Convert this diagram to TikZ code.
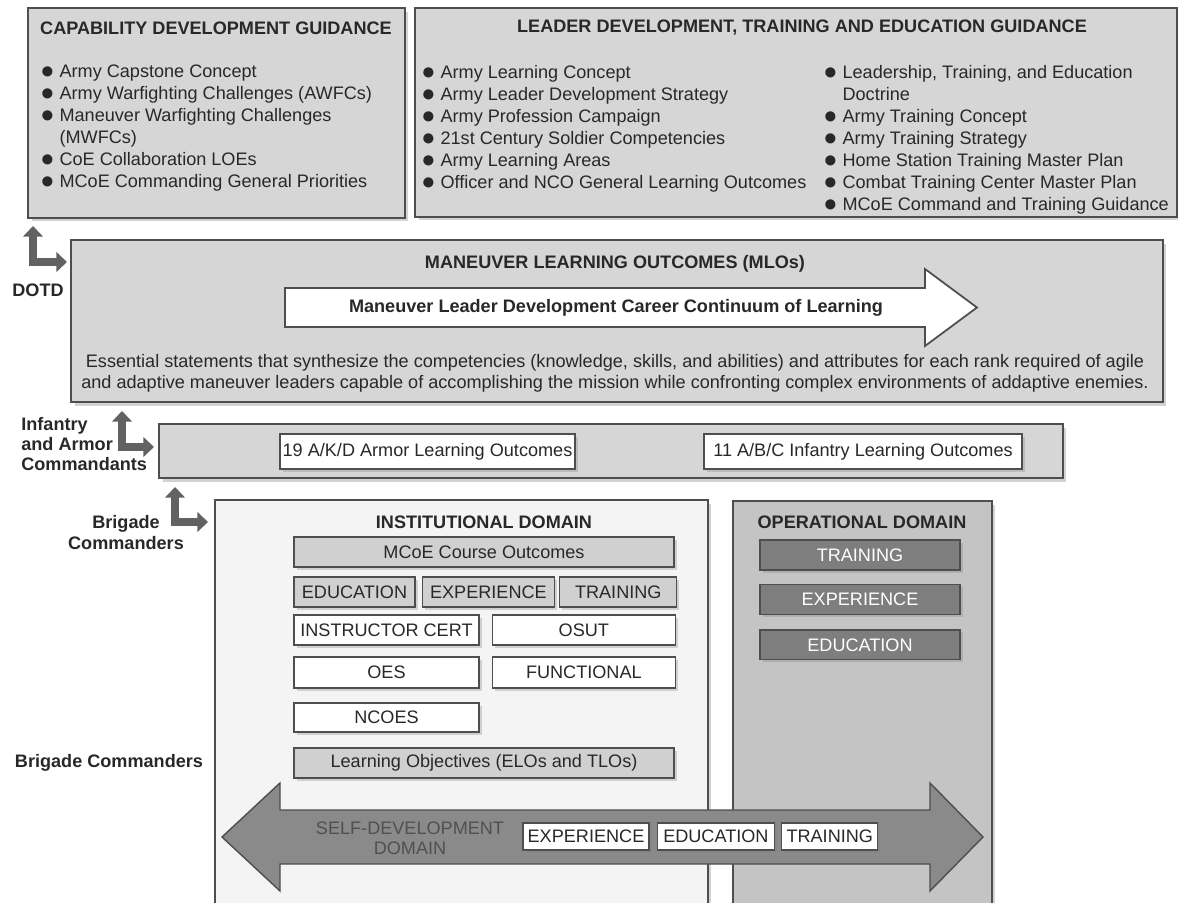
\documentclass[tikz,border=0pt]{standalone}
\usepackage{fontspec}
\setmainfont{Liberation Sans}
\usetikzlibrary{positioning,arrows.meta,shadows}
\definecolor{boxgray}{RGB}{214,214,214}
\definecolor{cellgray}{RGB}{208,208,208}
\definecolor{instgray}{RGB}{244,244,244}
\definecolor{opgray}{RGB}{196,196,196}
\definecolor{darkcellgray}{RGB}{126,126,126}
\definecolor{edgegray}{RGB}{78,78,78}
\definecolor{elbowgray}{RGB}{98,98,98}
\definecolor{inkgray}{RGB}{40,40,40}
\definecolor{sdgray}{RGB}{138,138,138}
\definecolor{sdtext}{RGB}{80,80,80}
\newcommand{\bul}{\raisebox{-0.5pt}{\scalebox{1.3}{●}}}

\begin{document}
\begin{tikzpicture}[
    x=0.02cm, y=-0.02cm,
    font=\fontsize{10.3}{12.5}\selectfont,
    text=inkgray,
    panel/.style={draw=edgegray, line width=1pt, fill=boxgray, inner sep=0pt,
        drop shadow={shadow xshift=2pt, shadow yshift=-2pt, opacity=0.35}},
    domainbox/.style={panel, line width=0.8pt},
    cell/.style={draw=edgegray, line width=0.8pt, fill=white, inner sep=0pt,
        drop shadow={shadow xshift=1.5pt, shadow yshift=-1.5pt, opacity=0.3}},
    graycell/.style={cell, fill=cellgray},
    darkcell/.style={cell, fill=darkcellgray, text=white},
    ttl/.style={font=\fontsize{10.3}{12.5}\selectfont\bfseries},
    lst/.style={align=left, inner sep=0pt, anchor=north west},
    who/.style={font=\fontsize{10.3}{11.5}\selectfont\bfseries, inner sep=0pt},
    elbow/.style={draw=elbowgray, line width=4pt, line join=miter,
        >={Triangle[width=11pt,length=6pt]}, <->},
]
\useasboundingbox (0,0) rectangle (1178,903);

% guidance boxes
\node[panel, minimum width=7.54cm, minimum height=4.2cm] (cdg) at (216.5,113) {};
\node[ttl] (cdgtitle) at (216,28) {CAPABILITY DEVELOPMENT GUIDANCE};
\node[lst] (cdglist) at (40,65) {\bul\ Army Capstone Concept\\\bul\ Army Warfighting Challenges (AWFCs)\\\bul\ Maneuver Warfighting Challenges\\\hphantom{\bul} (MWFCs)\\\bul\ CoE Collaboration LOEs\\\bul\ MCoE Commanding General Priorities};

\node[panel, minimum width=15.24cm, minimum height=4.18cm] (ldte) at (796,112.5) {};
\node[ttl] (ldtetitle) at (802,28) {LEADER DEVELOPMENT, TRAINING AND EDUCATION GUIDANCE};
\node[lst] (ldteleft) at (421,65) {\bul\ Army Learning Concept\\\bul\ Army Leader Development Strategy\\\bul\ Army Profession Campaign\\\bul\ 21st Century Soldier Competencies\\\bul\ Army Learning Areas\\\bul\ Officer and NCO General Learning Outcomes};
\node[lst] (ldteright) at (823,65) {\bul\ Leadership, Training, and Education\\\hphantom{\bul} Doctrine\\\bul\ Army Training Concept\\\bul\ Army Training Strategy\\\bul\ Home Station Training Master Plan\\\bul\ Combat Training Center Master Plan\\\bul\ MCoE Command and Training Guidance};

% maneuver learning outcomes
\node[panel, minimum width=21.84cm, minimum height=3.24cm] (mlo) at (617,321) {};
\node[ttl] (mlotitle) at (615,264) {MANEUVER LEARNING OUTCOMES (MLOs)};
\draw[edgegray, line width=1pt, fill=white] (285,288) -- (925,288) -- (925,269) -- (977,307.5)
    -- (925,346) -- (925,327) -- (285,327) -- cycle;
\node[ttl] (continuum) at (616,308) {Maneuver Leader Development Career Continuum of Learning};
\node[align=center, inner sep=0pt, font=\fontsize{10.3}{12}\selectfont] (mlotext) at (615,373) {Essential statements that synthesize the competencies (knowledge, skills, and abilities) and attributes for each rank required of agile\\and adaptive maneuver leaders capable of accomplishing the mission while confronting complex environments of addaptive enemies.};

% branch learning outcomes
\node[panel, minimum width=18.08cm, minimum height=1.08cm] (lo) at (611,451) {};
\node[cell, minimum width=5.9cm, minimum height=0.7cm] (armor) at (427.5,451.5) {19 A/K/D Armor Learning Outcomes};
\node[cell, minimum width=6.36cm, minimum height=0.7cm] (infantry) at (863,451.5) {11 A/B/C Infantry Learning Outcomes};

% domains
\node[domainbox, fill=instgray, minimum width=9.86cm, minimum height=8.3cm] (inst) at (461.5,707.5) {};
\node[domainbox, fill=opgray, minimum width=5.18cm, minimum height=8.28cm] (oper) at (862.5,708) {};
\node[ttl] (insttitle) at (484,522) {INSTITUTIONAL DOMAIN};
\node[ttl] (opertitle) at (862,522) {OPERATIONAL DOMAIN};

\node[graycell, minimum width=7.6cm, minimum height=0.6cm] (mcoe) at (484,552) {MCoE Course Outcomes};
\node[graycell, minimum width=2.42cm, minimum height=0.6cm] (edu) at (354.5,592) {EDUCATION};
\node[graycell, minimum width=2.64cm, minimum height=0.6cm, right=0.12cm of edu] (exp) {EXPERIENCE};
\node[graycell, minimum width=2.34cm, minimum height=0.6cm, right=0.08cm of exp] (trn) {TRAINING};
\node[cell, minimum width=3.7cm, minimum height=0.6cm] (instr) at (386.5,630) {INSTRUCTOR CERT};
\node[cell, minimum width=3.66cm, minimum height=0.6cm, right=0.24cm of instr] (osut) {OSUT};
\node[cell, minimum width=3.7cm, minimum height=0.62cm] (oes) at (386.5,672.5) {OES};
\node[cell, minimum width=3.66cm, minimum height=0.62cm, right=0.24cm of oes] (func) {FUNCTIONAL};
\node[cell, minimum width=3.7cm, minimum height=0.58cm] (ncoes) at (386.5,717.5) {NCOES};
\node[graycell, minimum width=7.6cm, minimum height=0.6cm] (lobj) at (484,763) {Learning Objectives (ELOs and TLOs)};

\node[darkcell, minimum width=4cm, minimum height=0.6cm] (otrn) at (860,555) {TRAINING};
\node[darkcell, minimum width=4cm, minimum height=0.6cm, below=0.26cm of otrn] (oexp) {EXPERIENCE};
\node[darkcell, minimum width=4cm, minimum height=0.6cm, below=0.28cm of oexp] (oedu) {EDUCATION};

% self-development
\draw[edgegray, line width=0.8pt, fill=sdgray] (222,837) -- (280,783) -- (280,810) -- (930,810)
    -- (930,783) -- (983,837) -- (930,891) -- (930,864) -- (280,864) -- (280,891) -- cycle;
\node[align=center, text=sdtext, inner sep=0pt, font=\fontsize{10.3}{11.5}\selectfont] (sdtitle) at (410,838) {SELF-DEVELOPMENT\\DOMAIN};
\node[cell, minimum width=2.52cm, minimum height=0.54cm] (sexp) at (586,836.5) {EXPERIENCE};
\node[cell, minimum width=2.34cm, minimum height=0.54cm, right=0.14cm of sexp] (sedu) {EDUCATION};
\node[cell, minimum width=1.92cm, minimum height=0.54cm, right=0.12cm of sedu] (strn) {TRAINING};

% who owns what
\node[who] (dotd) at (38,290) {DOTD};
\node[who, align=left, anchor=north west] (cmdts) at (21,417) {Infantry\\and Armor\\Commandants};
\node[who, align=center] (bdecdrs) at (126,532.5) {Brigade\\Commanders};
\node[who] (bdecdrs2) at (109,763) {Brigade Commanders};

\coordinate (dotdup) at (33,226);
\coordinate (dotdright) at (67,262);
\coordinate (cmdtsup) at (122,411);
\coordinate (cmdtsright) at (154,447);
\coordinate (bdeup) at (175,487);
\coordinate (bderight) at (208,522);
\draw[elbow] (dotdup) |- (dotdright);
\draw[elbow] (cmdtsup) |- (cmdtsright);
\draw[elbow] (bdeup) |- (bderight);
\end{tikzpicture}
\end{document}
